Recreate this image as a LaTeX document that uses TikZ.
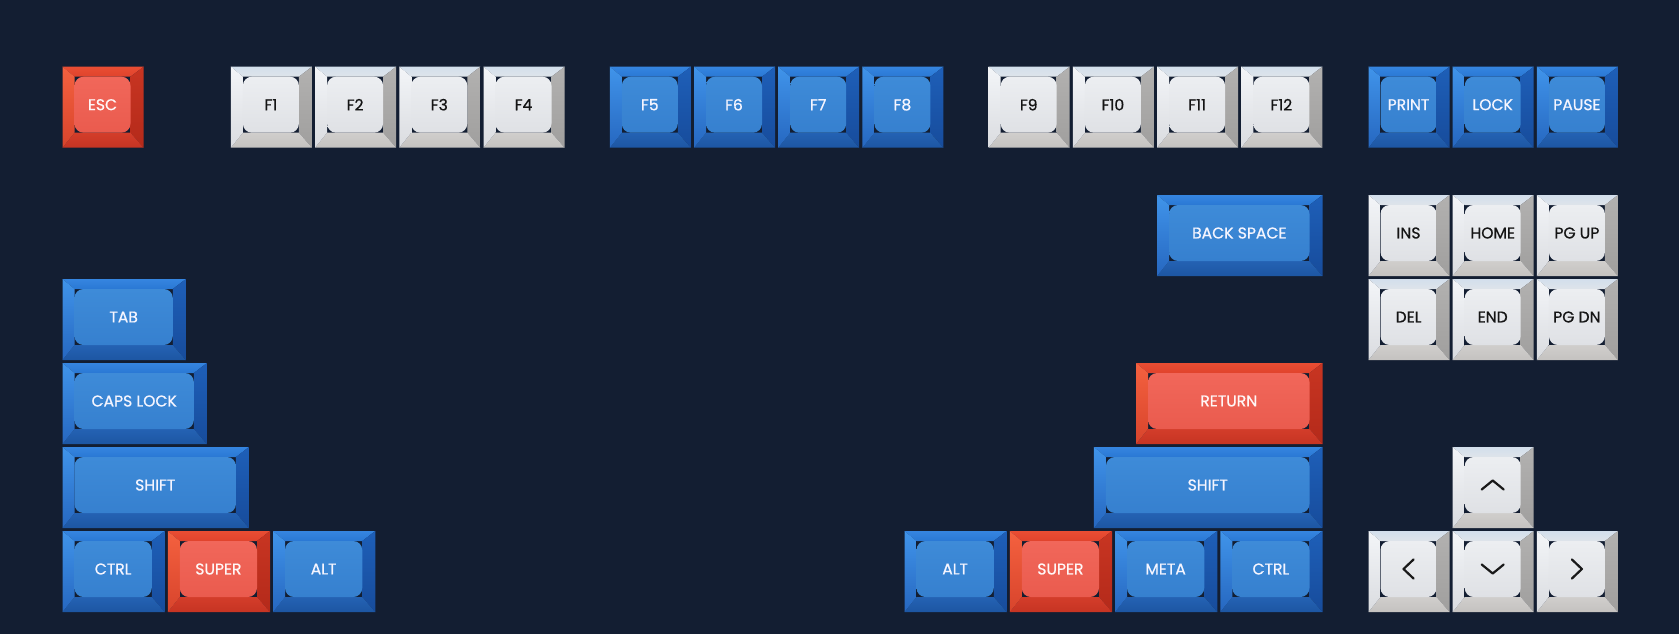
\documentclass[tikz,border=0pt]{standalone}
\usepackage{fontspec}
\setmainfont{Poppins}
\newfontfamily\keyfnt{Poppins}[FakeBold=0.7]
\definecolor{bg}{HTML}{131E32}
% blue
\definecolor{btopT}{HTML}{3585E0}\definecolor{btopB}{HTML}{2A78D4}
\definecolor{blftT}{HTML}{4094EA}\definecolor{blftB}{HTML}{2667C0}
\definecolor{brgtT}{HTML}{1E5FB8}\definecolor{brgtB}{HTML}{174C9C}
\definecolor{bbotT}{HTML}{2462B3}\definecolor{bbotB}{HTML}{1D56A3}
\definecolor{bfaceT}{HTML}{3E8BD8}\definecolor{bfaceB}{HTML}{3680CF}
% red
\definecolor{rtopT}{HTML}{E94D33}\definecolor{rtopB}{HTML}{E0432C}
\definecolor{rlftT}{HTML}{F4613F}\definecolor{rlftB}{HTML}{D8442C}
\definecolor{rrgtT}{HTML}{C83522}\definecolor{rrgtB}{HTML}{B42A1A}
\definecolor{rbotT}{HTML}{D33D2A}\definecolor{rbotB}{HTML}{C63423}
\definecolor{rfaceT}{HTML}{F1675A}\definecolor{rfaceB}{HTML}{EA5B4E}
% white
\definecolor{wtopT}{HTML}{D3DFEC}\definecolor{wtopB}{HTML}{DEE4EA}
\definecolor{wlftT}{HTML}{F3F5F8}\definecolor{wlftB}{HTML}{DADCE0}
\definecolor{wrgtT}{HTML}{B2B1B0}\definecolor{wrgtB}{HTML}{A09F9E}
\definecolor{wbotT}{HTML}{D0CECC}\definecolor{wbotB}{HTML}{C4C2C0}
\definecolor{wfaceT}{HTML}{ECEEF1}\definecolor{wfaceB}{HTML}{DFE1E5}
\tikzset{
  keyfont/.style={font=\keyfnt\fontsize{15.6}{15.6}\selectfont, inner sep=0pt},
  keytxtb/.style={keyfont, text=white!96!blue},
  keytxtr/.style={keyfont, text=white!97!red},
  keytxtw/.style={keyfont, text=black!92},
  chev/.style={draw=black!90, line width=2.2pt, line cap=round, line join=round},
}
\newcommand\keycap[6]{%
  \begin{scope}[shift={(#2,#3)}]
    \shade[top color=#5topT, bottom color=#5topB] (0,0) -- (#4,0) -- ({#4-13},10) -- (12,10) -- cycle;
    \shade[top color=#5rgtT, bottom color=#5rgtB] (#4,0) -- (#4,81) -- ({#4-13},66) -- ({#4-13},10) -- cycle;
    \shade[top color=#5botT, bottom color=#5botB] (0,81) -- (#4,81) -- ({#4-13},66) -- (12,66) -- cycle;
    \shade[top color=#5lftT, bottom color=#5lftB] (0,0) -- (0,81) -- (12,66) -- (12,10) -- cycle;
    \shade[top color=#5faceT, bottom color=#5faceB, rounded corners=9]
      (12,10) rectangle ({#4-13},66);
    \node[keytxt#5] (#1) at ({(#4-1)/2},38) {#6};
  \end{scope}}
\begin{document}
\begin{tikzpicture}[x=1pt,y=-1pt]
\fill[bg] (0,0) rectangle (1679,634);
\useasboundingbox (0,0) rectangle (1679,634);
% function row
\keycap{esc}{62.5}{66.7}{81}{r}{ESC}
\keycap{f1}{230.9}{66.7}{81}{w}{F1}
\keycap{f2}{315.1}{66.7}{81}{w}{F2}
\keycap{f3}{399.3}{66.7}{81}{w}{F3}
\keycap{f4}{483.5}{66.7}{81}{w}{F4}
\keycap{f5}{609.8}{66.7}{81}{b}{F5}
\keycap{f6}{694.0}{66.7}{81}{b}{F6}
\keycap{f7}{778.2}{66.7}{81}{b}{F7}
\keycap{f8}{862.4}{66.7}{81}{b}{F8}
\keycap{f9}{988.7}{66.7}{81}{w}{F9}
\keycap{f10}{1072.9}{66.7}{81}{w}{F10}
\keycap{f11}{1157.1}{66.7}{81}{w}{F11}
\keycap{f12}{1241.3}{66.7}{81}{w}{F12}
\keycap{print}{1368.5}{66.7}{81}{b}{PRINT}
\keycap{lock}{1452.7}{66.7}{81}{b}{LOCK}
\keycap{pause}{1536.9}{66.7}{81}{b}{PAUSE}
% row 1
\keycap{bksp}{1157.1}{195}{165.4}{b}{BACK SPACE}
\keycap{ins}{1368.5}{195}{81}{w}{INS}
\keycap{home}{1452.7}{195}{81}{w}{HOME}
\keycap{pgup}{1536.9}{195}{81}{w}{PG UP}
% row 2
\keycap{tab}{62.5}{279}{123.3}{b}{TAB}
\keycap{del}{1368.5}{279}{81}{w}{DEL}
\keycap{end}{1452.7}{279}{81}{w}{END}
\keycap{pgdn}{1536.9}{279}{81}{w}{PG DN}
% row 3
\keycap{caps}{62.5}{363}{144.35}{b}{CAPS LOCK}
\keycap{ret}{1136.05}{363}{186.45}{r}{RETURN}
% row 4
\keycap{lshift}{62.5}{447}{186.45}{b}{SHIFT}
\keycap{rshift}{1093.95}{447}{228.55}{b}{SHIFT}
\keycap{up}{1452.7}{447}{81}{w}{}
% row 5
\keycap{lctrl}{62.5}{531}{102.25}{b}{CTRL}
\keycap{lsuper}{167.75}{531}{102.25}{r}{SUPER}
\keycap{lalt}{273.0}{531}{102.25}{b}{ALT}
\keycap{ralt}{904.5}{531}{102.25}{b}{ALT}
\keycap{rsuper}{1009.75}{531}{102.25}{r}{SUPER}
\keycap{meta}{1115.0}{531}{102.25}{b}{META}
\keycap{rctrl}{1220.25}{531}{102.25}{b}{CTRL}
\keycap{left}{1368.5}{531}{81}{w}{}
\keycap{down}{1452.7}{531}{81}{w}{}
\keycap{right}{1536.9}{531}{81}{w}{}
% chevrons
\draw[chev] ([shift={(-11,4.5)}]up.center) -- ([shift={(0,-4.5)}]up.center) -- ([shift={(11,4.5)}]up.center);
\draw[chev] ([shift={(-11,-4.5)}]down.center) -- ([shift={(0,4.5)}]down.center) -- ([shift={(11,-4.5)}]down.center);
\draw[chev] ([shift={(5,-9.5)}]left.center) -- ([shift={(-5,0)}]left.center) -- ([shift={(5,9.5)}]left.center);
\draw[chev] ([shift={(-5,-9.5)}]right.center) -- ([shift={(5,0)}]right.center) -- ([shift={(-5,9.5)}]right.center);
\end{tikzpicture}
\end{document}
